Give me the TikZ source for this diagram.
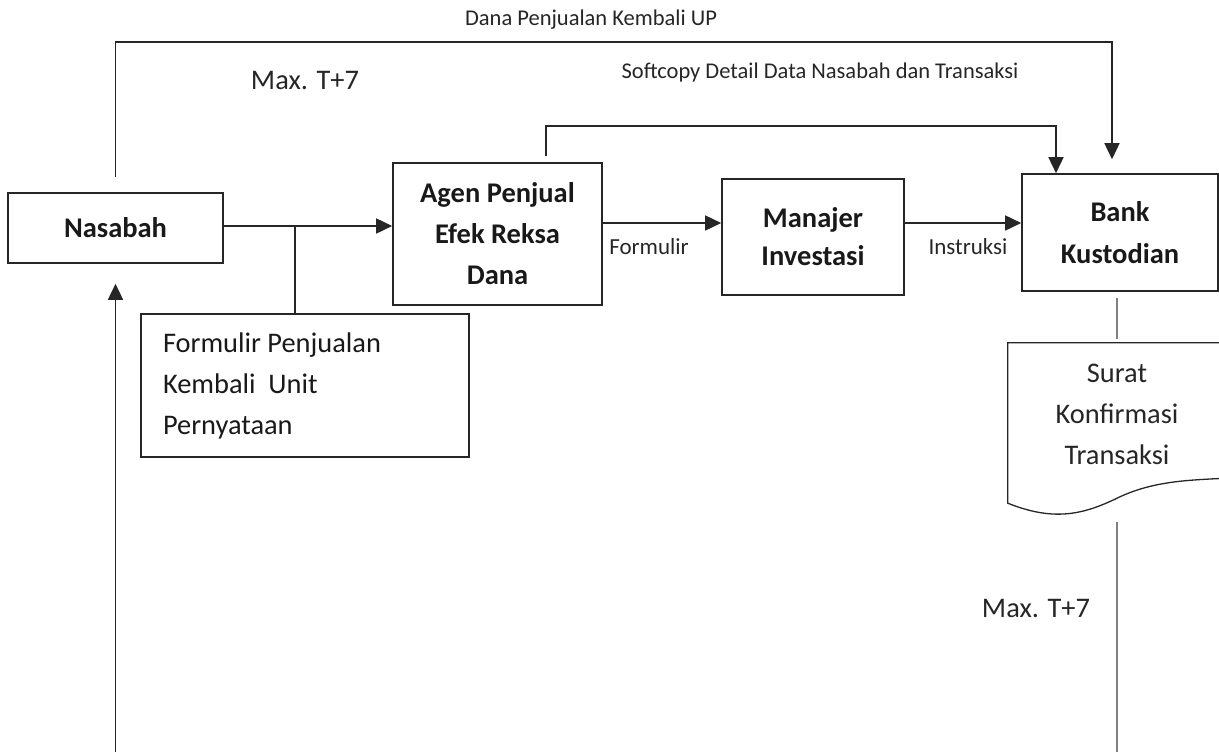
\documentclass[tikz,border=0pt]{standalone}
\usepackage{fontspec}
\setmainfont{Carlito}
\usetikzlibrary{arrows.meta}

\begin{document}
\begin{tikzpicture}[x=1pt,y=-1pt,
  kotak/.style={draw=black!85, line width=1.6pt, inner sep=0pt, align=center, text=black!90, font=\fontsize{28.5}{41}\selectfont\bfseries},
  garis/.style={draw=black!85, line width=1.6pt},
  panah/.style={garis, -{Triangle[length=16pt,width=15pt]}},
  abu/.style={draw=black!50, line width=2pt},
  ket/.style={inner sep=0pt, text=black!85, font=\fontsize{23}{28}\selectfont},
  teks/.style={inner sep=0pt, align=center, text=black!85, font=\fontsize{28.4}{41}\selectfont}]
\useasboundingbox (0,0) rectangle (1219,752);
\clip (0,0) rectangle (1219,752);

\node (nasabah) [kotak, minimum width=215pt, minimum height=70pt] at (115.5,228) {Nasabah};
\node (agen) [kotak, minimum width=209pt, minimum height=142pt] at (497.5,234) {Agen Penjual\\Efek Reksa\\Dana};
\node (manajer) [kotak, minimum width=182pt, minimum height=116pt, font=\fontsize{28.5}{38}\selectfont\bfseries] at (813,237) {Manajer\\Investasi};
\node (bank) [kotak, minimum width=196pt, minimum height=117pt, font=\fontsize{28.5}{42}\selectfont\bfseries] at (1120,232.5) {Bank\\Kustodian};
\node (formulir) [kotak, font=\fontsize{28.4}{41}\selectfont, align=flush left, inner xsep=22pt, text width=284pt, minimum height=143pt] at (305,385.5) {Formulir Penjualan\\Kembali\ \ Unit\\Pernyataan};
\node (surat) [teks, minimum width=218pt, minimum height=142pt] at (1117,414) {Surat\\Konfirmasi\\Transaksi};
\draw[garis, line width=1.3pt] (surat.north east) -- (surat.north west) -- ([yshift=-18pt]surat.south west) .. controls +(45,18) and +(-35,17) .. ([yshift=-13pt]surat.south) .. controls +(35,-17) and +(-40,2) .. ([yshift=7pt]surat.south east) -- cycle;

\node (dana) [ket, font=\fontsize{22.5}{27}\selectfont] at (591,20) {Dana Penjualan Kembali UP};
\node (maks1) [teks] at (305,81) {Max. T+7};
\node (softcopy) [ket, font=\fontsize{22.5}{27}\selectfont] at (820,73) {Softcopy Detail Data Nasabah dan Transaksi};
\node (formulirket) [ket] at (649,247) {Formulir};
\node (instruksi) [ket] at (968,247) {Instruksi};
\node (maks2) [teks] at (1036,608) {Max. T+7};

\coordinate (cabang) at (295,226);
\draw[panah] ([yshift=2pt]nasabah.east) -- ([yshift=2pt]nasabah.east -| agen.west);
\draw[garis] (cabang) -- (cabang |- formulir.north);
\draw[panah] ([yshift=11pt]agen.east) -- ([yshift=11pt]agen.east -| manajer.west);
\draw[panah] ([yshift=14pt]manajer.east) -- ([yshift=14pt]manajer.east -| bank.west);
\draw[panah] ([yshift=15pt]nasabah.north) -- ++(0,-135) -| ([xshift=-8pt,yshift=14pt]bank.north);
\draw[panah] ([xshift=48.5pt,yshift=6pt]agen.north) -- ++(0,-30) -| ([xshift=-64pt]bank.north);
\draw[abu] ([xshift=-3pt,yshift=-6pt]bank.south) -- ([yshift=4pt]surat.north);
\draw[abu] ([yshift=-37pt]surat.south) -- ++(0,240);
\draw[panah] (nasabah.south |- 0,760) -- ([yshift=-20pt]nasabah.south);
\end{tikzpicture}
\end{document}
